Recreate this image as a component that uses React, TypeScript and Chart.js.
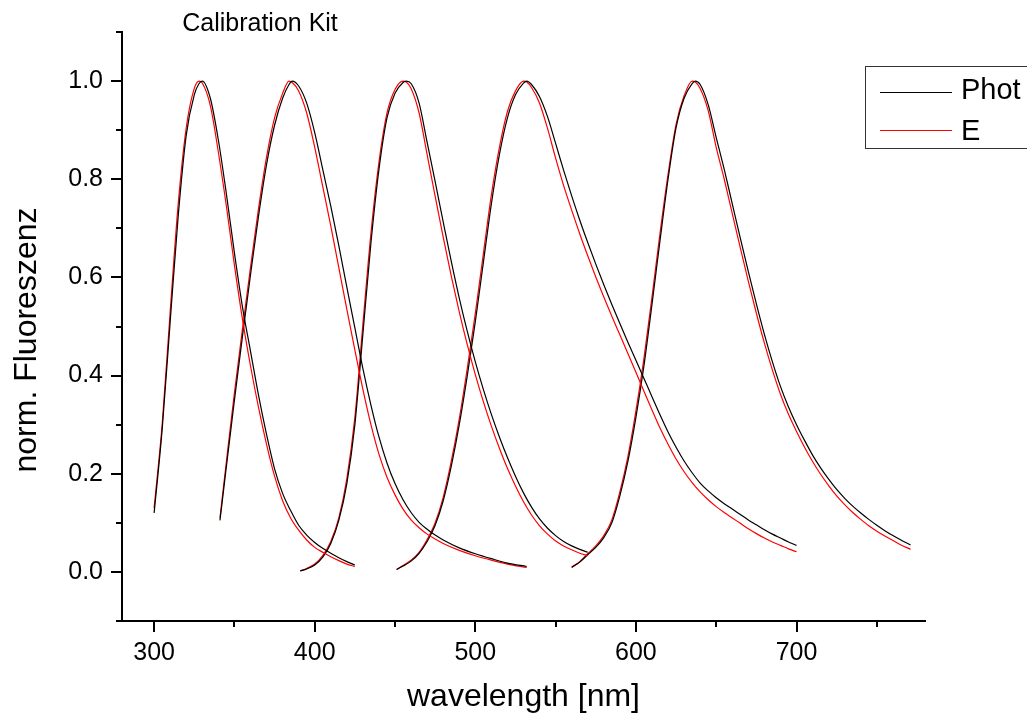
import React, { useEffect, useRef } from "react";
import { Chart, registerables } from "chart.js";

Chart.register(...registerables);

// ---- axis ticks ----
const xTicks = [300, 350, 400, 450, 500, 550, 600, 650, 700, 750];
const yTicks = [-0.1, 0, 0.1, 0.2, 0.3, 0.4, 0.5, 0.6, 0.7, 0.8, 0.9, 1.0, 1.1];

// ---- series names ----
const seriesNames = ["Phot", "E"];
const seriesColors = ["#000000", "#ff0000"];

// ---- curve 1 ----
const wl1 = [300, 305, 310, 315, 320, 325, 328, 330, 335, 340, 345, 350, 355, 360, 365, 370, 375, 380, 385, 390, 395, 400, 405, 410, 415, 420, 425];
const phot1 = [0.12, 0.29, 0.51, 0.725, 0.89, 0.972, 0.995, 1.0, 0.965, 0.88, 0.77, 0.65, 0.54, 0.45, 0.36, 0.28, 0.21, 0.16, 0.125, 0.095, 0.075, 0.06, 0.048, 0.038, 0.029, 0.021, 0.014];
const e1 = [0.13, 0.3, 0.53, 0.75, 0.905, 0.985, 1.0, 0.996, 0.95, 0.855, 0.745, 0.625, 0.515, 0.42, 0.335, 0.26, 0.195, 0.145, 0.11, 0.085, 0.065, 0.05, 0.04, 0.031, 0.023, 0.016, 0.011];

// ---- curve 2 ----
const wl2 = [341, 345, 350, 355, 360, 365, 370, 375, 380, 384, 386, 390, 395, 400, 405, 410, 415, 420, 425, 430, 435, 440, 445, 450, 455, 460, 465, 470, 475, 480, 490, 500, 510, 520, 532];
const phot2 = [0.105, 0.215, 0.35, 0.48, 0.605, 0.725, 0.83, 0.91, 0.965, 0.993, 1.0, 0.99, 0.955, 0.895, 0.82, 0.745, 0.665, 0.58, 0.497, 0.414, 0.34, 0.275, 0.222, 0.18, 0.147, 0.121, 0.101, 0.087, 0.075, 0.065, 0.049, 0.037, 0.027, 0.018, 0.011];
const e2 = [0.11, 0.225, 0.365, 0.495, 0.62, 0.74, 0.845, 0.925, 0.975, 1.0, 0.997, 0.98, 0.935, 0.865, 0.785, 0.705, 0.62, 0.535, 0.452, 0.372, 0.3, 0.24, 0.193, 0.157, 0.128, 0.106, 0.09, 0.077, 0.067, 0.058, 0.044, 0.033, 0.024, 0.016, 0.009];

// ---- curve 3 ----
const wl3 = [391, 395, 400, 405, 410, 415, 420, 425, 430, 435, 440, 445, 450, 455, 457, 460, 465, 470, 475, 480, 485, 490, 495, 500, 505, 510, 515, 520, 525, 530, 535, 540, 545, 550, 555, 560, 565, 570];
const phot3 = [0.002, 0.006, 0.014, 0.03, 0.058, 0.105, 0.18, 0.3, 0.485, 0.67, 0.82, 0.925, 0.975, 0.997, 1.0, 0.995, 0.955, 0.875, 0.795, 0.713, 0.633, 0.558, 0.49, 0.428, 0.372, 0.321, 0.275, 0.233, 0.195, 0.161, 0.132, 0.108, 0.089, 0.074, 0.062, 0.053, 0.046, 0.04];
const e3 = [0.002, 0.007, 0.016, 0.033, 0.062, 0.11, 0.19, 0.315, 0.505, 0.69, 0.835, 0.935, 0.983, 1.0, 0.998, 0.985, 0.935, 0.85, 0.765, 0.682, 0.603, 0.53, 0.463, 0.402, 0.347, 0.297, 0.252, 0.211, 0.175, 0.143, 0.116, 0.094, 0.077, 0.063, 0.053, 0.045, 0.038, 0.033];

// ---- curve 4 ----
const wl4 = [451, 455, 460, 465, 470, 475, 480, 485, 490, 495, 500, 505, 510, 515, 520, 525, 530, 532, 535, 540, 545, 550, 555, 560, 565, 570, 575, 580, 585, 590, 595, 600, 605, 610, 615, 620, 625, 630, 635, 640, 645, 650, 655, 660, 665, 670, 675, 680, 685, 690, 695, 700];
const phot4 = [0.005, 0.012, 0.022, 0.038, 0.062, 0.095, 0.145, 0.215, 0.3, 0.4, 0.51, 0.63, 0.75, 0.85, 0.925, 0.972, 0.996, 1.0, 0.993, 0.968, 0.927, 0.873, 0.818, 0.766, 0.717, 0.671, 0.627, 0.585, 0.545, 0.506, 0.468, 0.431, 0.394, 0.357, 0.32, 0.285, 0.254, 0.226, 0.202, 0.181, 0.165, 0.151, 0.139, 0.128, 0.117, 0.106, 0.096, 0.086, 0.077, 0.069, 0.061, 0.054];
const e4 = [0.005, 0.013, 0.024, 0.04, 0.066, 0.1, 0.152, 0.225, 0.312, 0.415, 0.527, 0.648, 0.768, 0.865, 0.938, 0.98, 1.0, 0.998, 0.987, 0.955, 0.903, 0.843, 0.787, 0.737, 0.689, 0.644, 0.601, 0.56, 0.521, 0.483, 0.445, 0.407, 0.368, 0.33, 0.293, 0.26, 0.23, 0.204, 0.182, 0.163, 0.147, 0.133, 0.121, 0.11, 0.099, 0.088, 0.078, 0.069, 0.061, 0.054, 0.047, 0.041];

// ---- curve 5 ----
const wl5 = [560, 565, 570, 575, 580, 585, 590, 595, 600, 605, 610, 615, 620, 625, 630, 635, 637, 640, 645, 650, 655, 660, 665, 670, 675, 680, 685, 690, 695, 700, 705, 710, 715, 720, 725, 730, 735, 740, 745, 750, 755, 760, 765, 771];
const phot5 = [0.009, 0.02, 0.035, 0.05, 0.07, 0.1, 0.155, 0.225, 0.315, 0.42, 0.545, 0.675, 0.8, 0.905, 0.965, 0.995, 1.0, 0.993, 0.952, 0.885, 0.82, 0.75, 0.68, 0.612, 0.546, 0.484, 0.428, 0.378, 0.336, 0.3, 0.268, 0.238, 0.212, 0.189, 0.168, 0.15, 0.134, 0.12, 0.107, 0.095, 0.084, 0.074, 0.065, 0.055];
const e5 = [0.01, 0.021, 0.037, 0.053, 0.074, 0.106, 0.163, 0.235, 0.328, 0.435, 0.56, 0.69, 0.81, 0.912, 0.97, 1.0, 0.998, 0.985, 0.94, 0.865, 0.8, 0.73, 0.66, 0.592, 0.527, 0.466, 0.411, 0.362, 0.321, 0.286, 0.254, 0.225, 0.199, 0.176, 0.155, 0.137, 0.121, 0.107, 0.094, 0.083, 0.073, 0.064, 0.055, 0.046];

// ---- text ----
const annotationText = "Calibration Kit";
const xTitle = "wavelength [nm]";
const yTitle = "norm. Fluoreszenz";

const FONT = "'Liberation Sans', Arial, Helvetica, sans-serif";

export default function App() {
  const ref = useRef<HTMLCanvasElement | null>(null);

  useEffect(() => {
    if (!ref.current) return;
    const curves: [number[], number[], number[]][] = [
      [wl1, phot1, e1],
      [wl2, phot2, e2],
      [wl3, phot3, e3],
      [wl4, phot4, e4],
      [wl5, phot5, e5],
    ];
    const datasets: any[] = [];
    curves.forEach(([wl, p, e]) => {
      [p, e].forEach((vals, k) => {
        datasets.push({
          label: seriesNames[k],
          data: wl.map((x, i) => ({ x, y: vals[i] })),
          borderColor: seriesColors[k],
          backgroundColor: seriesColors[k],
          borderWidth: 1.2,
          pointRadius: 0,
          fill: false,
          cubicInterpolationMode: "monotone",
        });
      });
    });

    const decor = {
      id: "decor",
      afterDraw(chart: any) {
        const { ctx, chartArea, scales } = chart;
        const xs = scales.x;
        const ys = scales.y;
        ctx.save();
        ctx.strokeStyle = "#000";
        ctx.lineWidth = 2;
        ctx.beginPath();
        xTicks.forEach((v) => {
          const px = Math.round(xs.getPixelForValue(v));
          const len = v % 100 === 0 ? 11 : 6;
          ctx.moveTo(px, chartArea.bottom);
          ctx.lineTo(px, chartArea.bottom + len);
        });
        yTicks.forEach((v) => {
          const py = Math.round(ys.getPixelForValue(v));
          const major = Math.round(v * 10) % 2 === 0;
          const len = major ? 11 : 6;
          ctx.moveTo(chartArea.left - len, py);
          ctx.lineTo(chartArea.left, py);
        });
        ctx.moveTo(chartArea.left - 5, chartArea.bottom);
        ctx.lineTo(chartArea.left, chartArea.bottom);
        ctx.stroke();

        // annotation
        ctx.fillStyle = "#000";
        ctx.font = `25px ${FONT}`;
        ctx.textAlign = "center";
        ctx.textBaseline = "alphabetic";
        ctx.fillText(annotationText, 260, 31);

        // y title
        ctx.save();
        ctx.translate(27, 340);
        ctx.rotate(-Math.PI / 2);
        ctx.font = `32px ${FONT}`;
        ctx.textAlign = "center";
        ctx.textBaseline = "middle";
        ctx.fillText(yTitle, 0, 0);
        ctx.restore();

        // legend box
        const bx = 865.5, by = 66.5, bh = 82;
        ctx.fillStyle = "#fff";
        ctx.fillRect(bx, by, 300, bh);
        ctx.strokeStyle = "#333";
        ctx.lineWidth = 1;
        ctx.strokeRect(bx, by, 300, bh);
        const rows = [92, 130];
        const baselines = [99, 140];
        seriesNames.forEach((name, i) => {
          const ly = rows[i];
          ctx.strokeStyle = seriesColors[i];
          ctx.lineWidth = 1;
          ctx.beginPath();
          ctx.moveTo(880, ly + 0.5);
          ctx.lineTo(952, ly + 0.5);
          ctx.stroke();
          ctx.fillStyle = "#000";
          ctx.font = `29px ${FONT}`;
          ctx.textAlign = "left";
          ctx.textBaseline = "alphabetic";
          ctx.fillText(name, 961, baselines[i]);
        });
        ctx.restore();
      },
    };

    const chart = new Chart(ref.current, {
      type: "line",
      data: { datasets },
      plugins: [decor],
      options: {
        responsive: false,
        animation: false,
        layout: { padding: { top: 32, right: 102, left: 0, bottom: 0 } },
        plugins: {
          legend: { display: false },
          tooltip: { enabled: false },
          title: { display: false },
        },
        scales: {
          x: {
            type: "linear",
            min: 280,
            max: 780,
            afterBuildTicks: (s: any) => {
              s.ticks = xTicks.map((v) => ({ value: v }));
            },
            afterFit: (s: any) => {
              s.height = 96;
            },
            ticks: {
              autoSkip: false,
              maxRotation: 0,
              padding: 6,
              color: "#000",
              font: { family: FONT, size: 25 },
              callback: (v: any) => (Number(v) % 100 === 0 ? String(v) : ""),
            },
            grid: {
              drawOnChartArea: false,
              drawTicks: true,
              tickLength: 11,
              tickColor: "rgba(0,0,0,0)",
            },
            border: { display: true, color: "#000", width: 2 },
            title: {
              display: true,
              text: xTitle,
              color: "#000",
              font: { family: FONT, size: 32 },
              padding: { top: 0, bottom: 1 },
            },
          },
          y: {
            type: "linear",
            min: -0.1,
            max: 1.1,
            afterBuildTicks: (s: any) => {
              s.ticks = yTicks.map((v) => ({ value: v }));
            },
            afterFit: (s: any) => {
              s.width = 122;
            },
            ticks: {
              autoSkip: false,
              padding: 8,
              color: "#000",
              font: { family: FONT, size: 25 },
              callback: (v: any) => {
                const n = Math.round(Number(v) * 10);
                return n >= 0 && n % 2 === 0 ? (n / 10).toFixed(1) : "";
              },
            },
            grid: {
              drawOnChartArea: false,
              drawTicks: true,
              tickLength: 11,
              tickColor: "rgba(0,0,0,0)",
            },
            border: { display: true, color: "#000", width: 2 },
            title: { display: false },
          },
        },
      },
    } as any);
    return () => chart.destroy();
  }, []);

  return (
    <div style={{ position: "fixed", left: 0, top: 0, width: 1027, height: 717, background: "#fff" }}>
      <canvas ref={ref} width={1027} height={717} style={{ display: "block" }} />
    </div>
  );
}
